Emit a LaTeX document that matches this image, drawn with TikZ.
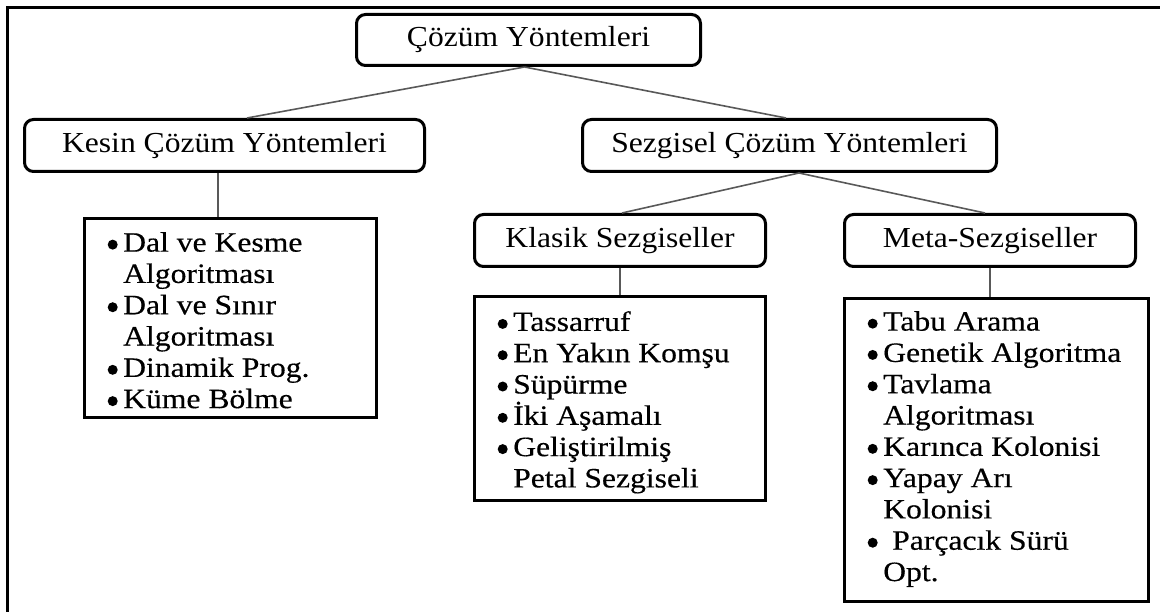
\documentclass[tikz,border=0pt]{standalone}
\usepackage{fontspec}
\setmainfont{Liberation Serif}
\newfontfamily\hfont[FakeStretch=1.09]{Liberation Serif}
\newfontfamily\lfont[FakeStretch=1.13,FakeBold=0.4]{Liberation Serif}
\newcommand\bitem{\makebox[19pt][l]{\hspace*{3.5pt}\tikz[baseline=0pt]\fill (0pt,7pt) circle (5pt);}}
\newcommand\bind{\hspace*{19pt}}
\begin{document}
\begin{tikzpicture}[x=1pt,y=-1pt,
  hdr/.style={draw, line width=3pt, rounded corners=9pt, inner sep=0pt, font=\hfont\fontsize{29}{31}\selectfont, text=black},
  lbox/.style={draw, line width=3.2pt, inner sep=0pt},
  ltext/.style={anchor=north west, inner sep=0pt, align=left, font=\lfont\fontsize{28}{31.3}\selectfont},
  conn/.style={draw=black!65, line width=1.6pt},
  frame/.style={line width=3pt}]
\useasboundingbox (0,0) rectangle (1160,612);
\draw[frame] (7.5,612) -- (7.5,7.5) -- (1160,7.5);
% header boxes
\node[hdr, minimum width=344pt, minimum height=51pt] (root) at (528.5,40) {Çözüm Yöntemleri};
\node[hdr, minimum width=400pt, minimum height=52pt] (kesin) at (224.5,145.5) {Kesin Çözüm Yöntemleri};
\node[hdr, minimum width=414pt, minimum height=52pt] (sezg) at (789.5,145.5) {Sezgisel Çözüm Yöntemleri};
\node[hdr, minimum width=291pt, minimum height=52pt] (klasik) at (620,240.5) {Klasik Sezgiseller};
\node[hdr, minimum width=291pt, minimum height=52pt] (meta) at (990,240.5) {Meta-Sezgiseller};
% list boxes
\node[lbox, minimum width=292pt, minimum height=199pt] (klist) at (230.5,318) {};
\node[lbox, minimum width=291pt, minimum height=204pt] (slist) at (620,398.5) {};
\node[lbox, minimum width=304pt, minimum height=303pt] (mlist) at (996.5,450) {};
% list texts
\node[ltext] (ktext) at (104,232) {\bitem Dal ve Kesme\\\bind Algoritması\\\bitem Dal ve Sınır\\\bind Algoritması\\\bitem Dinamik Prog.\\\bitem Küme Bölme};
\node[ltext] (stext) at (494,311) {\bitem Tassarruf\\\bitem En Yakın Komşu\\\bitem Süpürme\\\bitem İki Aşamalı\\\bitem Geliştirilmiş\\\bind Petal Sezgiseli};
\node[ltext] (mtext) at (864,311) {\bitem Tabu Arama\\\bitem Genetik Algoritma\\\bitem Tavlama\\\bind Algoritması\\\bitem Karınca Kolonisi\\\bitem Yapay Arı\\\bind Kolonisi\\\bitem\hspace{9pt}Parçacık Sürü\\\bind Opt.};
% connectors
\coordinate (rs) at ([xshift=-4pt]root.south);
\coordinate (ss) at ([xshift=9.5pt]sezg.south);
\coordinate (kx) at ([xshift=-12.5pt]klist.north);
\draw[conn] (rs) -- ([xshift=22.5pt]kesin.north);
\draw[conn] (rs) -- ([xshift=-3.5pt]sezg.north);
\draw[conn] (ss) -- ([xshift=2pt]klasik.north);
\draw[conn] (ss) -- ([xshift=-5pt]meta.north);
\draw[conn] (kx) -- (kx |- kesin.south);
\draw[conn] (klasik.south) -- (slist.north);
\draw[conn] (meta.south) -- (meta.south |- mlist.north);
\end{tikzpicture}
\end{document}
